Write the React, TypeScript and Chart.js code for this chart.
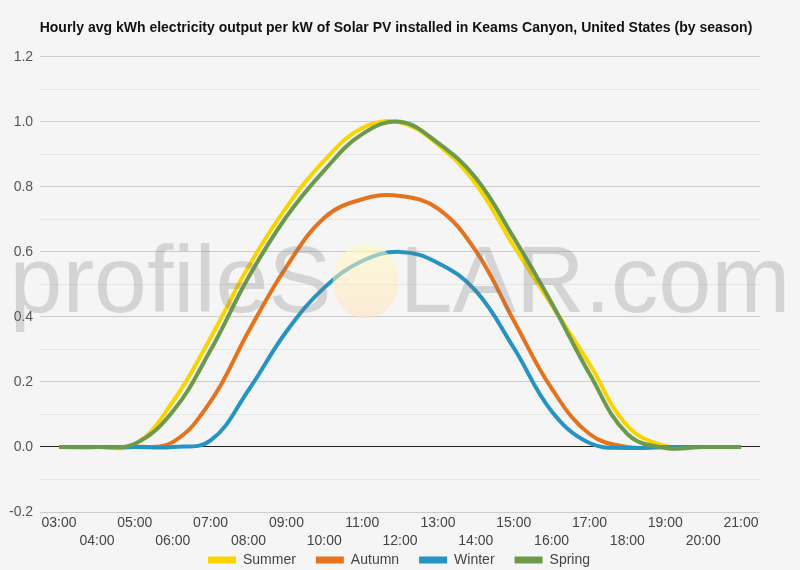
import { useEffect, useRef } from "react";
import { Chart, registerables } from "chart.js";

Chart.register(...registerables);

const hours = ["03:00", "04:00", "05:00", "06:00", "07:00", "08:00", "09:00", "10:00", "11:00", "12:00", "13:00", "14:00", "15:00", "16:00", "17:00", "18:00", "19:00", "20:00", "21:00"];
const summer = [0, 0, 0.008, 0.139, 0.336, 0.555, 0.737, 0.881, 0.981, 0.998, 0.93, 0.809, 0.618, 0.437, 0.255, 0.065, 0.003, 0, 0];
const autumn = [0, 0, 0, 0.015, 0.14, 0.355, 0.554, 0.705, 0.762, 0.772, 0.733, 0.603, 0.389, 0.18, 0.04, 0, 0, 0, 0];
const winter = [0, 0, 0, 0, 0.02, 0.175, 0.355, 0.49, 0.572, 0.6, 0.566, 0.48, 0.305, 0.11, 0.012, -0.003, 0, 0, 0];
const spring = [0, 0, 0.01, 0.109, 0.298, 0.522, 0.708, 0.851, 0.962, 1.0, 0.935, 0.827, 0.644, 0.443, 0.225, 0.04, -0.003, 0, 0];
const seriesNames = ["Summer", "Autumn", "Winter", "Spring"];
const seriesColors = ["#fad400", "#e5731e", "#2593c3", "#6c9a4c"];
const titleText = "Hourly avg kWh electricity output per kW of Solar PV installed in Keams Canyon, United States (by season)";
const yMin = -0.2;
const yMax = 1.2;

const FONT = "'Liberation Sans', Arial, sans-serif";

const watermark = {
  id: "watermark",
  afterDatasetsDraw(chart: any) {
    const ctx = chart.ctx as CanvasRenderingContext2D;
    ctx.save();
    ctx.font = "95px " + FONT;
    ctx.textBaseline = "alphabetic";
    const left = "profileS";
    const right = "LAR.com";
    const wl = ctx.measureText(left).width;
    const wr = ctx.measureText(right).width;
    const gap = 68;
    const total = wl + gap + wr;
    const x0 = (800 - total) / 2;
    const base = 312;
    ctx.fillStyle = "rgba(120,120,120,0.26)";
    ctx.fillText(left, x0, base);
    ctx.fillText(right, x0 + wl + gap, base);
    const cx = x0 + wl + gap / 2;
    const cy = 281;
    const g = ctx.createLinearGradient(0, cy - 37, 0, cy + 37);
    g.addColorStop(0, "rgba(255,252,190,0.55)");
    g.addColorStop(1, "rgba(255,225,190,0.55)");
    ctx.fillStyle = g;
    ctx.beginPath();
    ctx.ellipse(cx, cy, 33, 37, 0, 0, Math.PI * 2);
    ctx.fill();
    ctx.restore();
  },
};

const layoutTweak = {
  id: "layoutTweak",
  afterLayout(chart: any) {
    const x = chart.scales.x;
    x.bottom = x.top + 48;
    x.height = 48;
    if (chart.titleBlock) {
      chart.titleBlock.left += 15;
      chart.titleBlock.right += 15;
    }
    if (chart.legend) {
      chart.legend.left += 18;
      chart.legend.right += 18;
      chart.legend.top -= 1;
      chart.legend.bottom -= 1;
    }
  },
};

export default function App() {
  const ref = useRef<HTMLCanvasElement>(null);
  useEffect(() => {
    document.body.style.margin = "0";
    const labels = hours.map((h, i) => (i % 2 === 0 ? [h] : ["", h]));
    const data = [summer, autumn, winter, spring];
    const orders = [3, 2, 1, 0];
    const chart = new Chart(ref.current!, {
      type: "line",
      data: {
        labels,
        datasets: seriesNames.map((name, i) => ({
          label: name,
          data: data[i],
          borderColor: seriesColors[i],
          backgroundColor: seriesColors[i],
          borderWidth: 4,
          pointRadius: 0,
          tension: 0.4,
          fill: false,
          order: orders[i],
        })),
      },
      options: {
        animation: false,
        responsive: false,
        layout: { padding: { left: 2, right: 40, top: 0, bottom: 0 } },
        plugins: {
          title: {
            display: true,
            text: titleText,
            color: "#111",
            font: { family: FONT, size: 14, weight: "bold" },
            padding: { top: 20, bottom: 20 },
          },
          legend: {
            position: "bottom",
            maxHeight: 36,
            labels: {
              boxWidth: 28,
              boxHeight: 7,
              padding: 20,
              color: "#444",
              font: { family: FONT, size: 14 },
              sort: (a: any, b: any) => a.datasetIndex - b.datasetIndex,
              generateLabels: (c: any) =>
                Chart.defaults.plugins.legend.labels.generateLabels(c).map((l: any) => ({ ...l, lineWidth: 0 })),
            },
          },
          tooltip: { enabled: false },
        },
        scales: {
          x: {
            offset: true,
            grid: { display: false, drawTicks: false },
            border: { display: false },
            afterFit: (s: any) => {
              s.height = 22;
            },
            ticks: {
              autoSkip: false,
              maxRotation: 0,
              padding: 2,
              color: "#444",
              font: { family: FONT, size: 14, lineHeight: 1.3 },
            },
          },
          y: {
            min: yMin,
            max: yMax,
            border: { display: false },
            grid: {
              drawTicks: false,
              color: (c: any) => {
                const v = Math.round(c.tick.value * 10);
                if (v === 0) return "#222";
                return Math.abs(v) % 2 === 1 ? "#e6e6e6" : "#cccccc";
              },
            },
            ticks: {
              stepSize: 0.1,
              padding: 7,
              color: "#555",
              font: { family: FONT, size: 14 },
              callback: (v: any) => {
                const n = Math.round(Number(v) * 10);
                return Math.abs(n) % 2 === 0 ? (n / 10).toFixed(1) : "";
              },
            },
          },
        },
      },
      plugins: [watermark, layoutTweak],
    });
    return () => chart.destroy();
  }, []);
  return (
    <div style={{ width: 800, height: 570, background: "#f5f5f5" }}>
      <canvas ref={ref} width={800} height={570} />
    </div>
  );
}
